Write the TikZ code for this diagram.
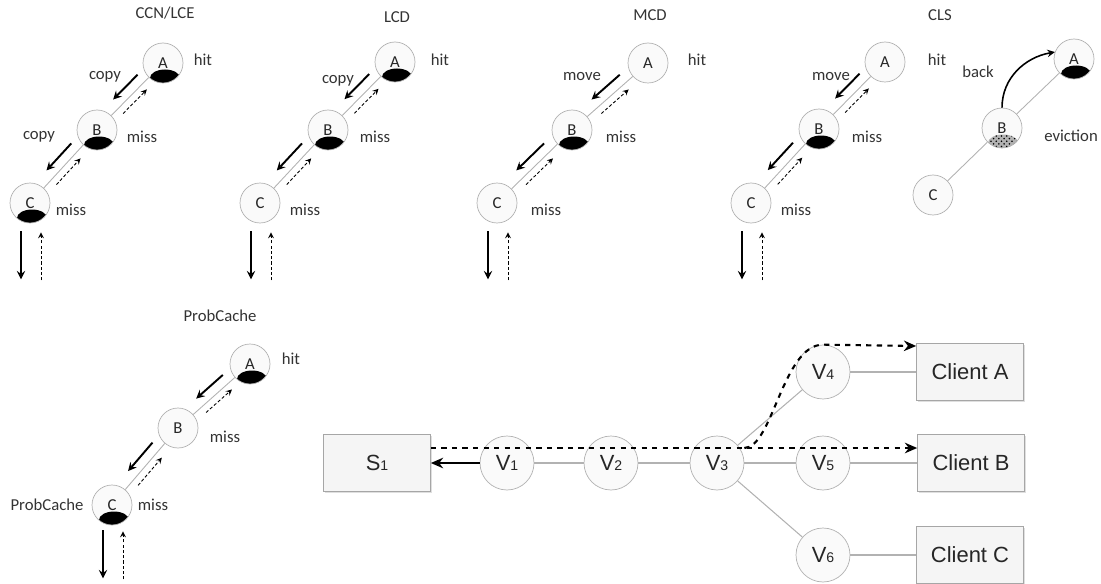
\documentclass[tikz,border=0pt]{standalone}
\usepackage{fontspec}
\setmainfont{Carlito}
\newfontfamily\netfont{Liberation Sans}
\usetikzlibrary{shapes, arrows.meta, positioning, shadows, calc, patterns}

\begin{document}
\begin{tikzpicture}[x=0.02cm, y=-0.02cm, font=\fontsize{9.5}{11}\selectfont, >=stealth]
    % Styles
    \tikzstyle{cache} = [circle, draw=gray!60, fill=gray!4, minimum size=0.8cm, inner sep=0pt, text=black!85]
    \tikzstyle{hitcache} = [cache, path picture={\fill[black] ($(path picture bounding box.center)+(2,15)$) ellipse [x radius=0.3cm, y radius=0.17cm];}]
    \tikzstyle{evictcache} = [cache, path picture={\fill[preaction={fill=gray!60}, pattern=crosshatch dots, pattern color=black] ($(path picture bounding box.center)+(1,15)$) ellipse [x radius=0.3cm, y radius=0.17cm];}]
    \tikzstyle{lbl} = [text=black!80]
    \tikzstyle{link} = [draw=gray!60, line width=0.5pt]
    \tikzstyle{push} = [->, line width=1.1pt]
    \tikzstyle{pull} = [->, dash pattern=on 1.8pt off 1.2pt, line width=0.5pt]
    \tikzstyle{router} = [circle, draw=gray!60, fill=gray!4, minimum size=1.08cm, inner sep=0pt, text=black!85, font=\netfont\fontsize{12.5}{14}\selectfont]
    \tikzstyle{host} = [rectangle, draw=gray!70, fill=gray!8, minimum width=2.14cm, minimum height=1.14cm, text=black!85, drop shadow={shadow xshift=0.8pt, shadow yshift=-0.8pt, fill=gray!50, opacity=0.5}, font=\netfont\fontsize{12.5}{14}\selectfont]
    \tikzstyle{netlink} = [draw=gray!60, line width=0.6pt]
    \tikzstyle{data} = [-{Stealth[length=7pt, width=6pt]}, dashed, line width=1.2pt]

    \useasboundingbox (0,0) rectangle (1101,584);

    % CCN/LCE
    \node (ccnT) [lbl] at (165,13) {CCN/LCE};
    \node (ccnA) [hitcache] at (163,63) {A};
    \node (ccnB) [hitcache] at (97,130) {B};
    \node (ccnC) [hitcache] at (30,203) {C};
    \node [lbl] at (203,60) {hit};
    \node [lbl] at (105,77) {copy};
    \node [lbl] at (39,137) {copy};
    \node [lbl] at (142,137) {miss};
    \node [lbl] at (71,210) {miss};

    % LCD
    \node (lcdT) [lbl] at (397,17) {LCD};
    \node (lcdA) [hitcache] at (395,62) {A};
    \node (lcdB) [hitcache] at (328,130) {B};
    \node (lcdC) [cache] at (260,203) {C};
    \node [lbl] at (440,60) {hit};
    \node [lbl] at (338,81) {copy};
    \node [lbl] at (375,137) {miss};
    \node [lbl] at (305,210) {miss};

    % MCD
    \node (mcdT) [lbl] at (650,15) {MCD};
    \node (mcdA) [cache] at (648,63) {A};
    \node (mcdB) [hitcache] at (572,130) {B};
    \node (mcdC) [cache] at (497,203) {C};
    \node [lbl] at (697,60) {hit};
    \node [lbl] at (582,77) {move};
    \node [lbl] at (621,137) {miss};
    \node [lbl] at (546,210) {miss};

    % CLS
    \node (clsT) [lbl] at (940,15) {CLS};
    \node (clsA) [cache] at (885,62) {A};
    \node (clsB) [hitcache] at (819,129) {B};
    \node (clsC) [cache] at (751,203) {C};
    \node [lbl] at (937,60) {hit};
    \node [lbl] at (831,77) {move};
    \node [lbl] at (867,137) {miss};
    \node [lbl] at (796,210) {miss};
    \node (evA) [hitcache] at (1074,59) {A};
    \node (evB) [evictcache] at (1002,128) {B};
    \node (evC) [cache] at (933,195) {C};
    \node [lbl] at (978,72) {back};
    \node [lbl] at (1071,136) {eviction};

    % ProbCache
    \node (probT) [lbl] at (220,316) {ProbCache};
    \node (probA) [hitcache] at (250,364) {A};
    \node (probB) [cache] at (178,428) {B};
    \node (probC) [hitcache] at (112,505) {C};
    \node [lbl] at (291,359) {hit};
    \node [lbl] at (225,437) {miss};
    \node [lbl] at (47,505) {ProbCache};
    \node [lbl] at (153,505) {miss};

    % Paths: chains A-B-C
    \draw [link] (ccnA) -- (ccnB);
    \draw [link] (ccnB) -- (ccnC);
    \draw [push] ($(ccnA)!0.28!(ccnB)+(-7,-7)$) -- ($(ccnA)!0.65!(ccnB)+(-7,-7)$);
    \draw [pull] ($(ccnA)!0.68!(ccnB)+(5,5)$) -- ($(ccnA)!0.32!(ccnB)+(5,5)$);
    \draw [push] ($(ccnB)!0.28!(ccnC)+(-7,-7)$) -- ($(ccnB)!0.65!(ccnC)+(-7,-7)$);
    \draw [pull] ($(ccnB)!0.68!(ccnC)+(5,5)$) -- ($(ccnB)!0.32!(ccnC)+(5,5)$);
    \draw [push] (ccnC.south) ++(-9,8) -- ++(0,48);
    \draw [pull] (ccnC.south) ++(11,57) -- ++(0,-48);

    \draw [link] (lcdA) -- (lcdB);
    \draw [link] (lcdB) -- (lcdC);
    \draw [push] ($(lcdA)!0.28!(lcdB)+(-7,-7)$) -- ($(lcdA)!0.65!(lcdB)+(-7,-7)$);
    \draw [pull] ($(lcdA)!0.68!(lcdB)+(5,5)$) -- ($(lcdA)!0.32!(lcdB)+(5,5)$);
    \draw [push] ($(lcdB)!0.28!(lcdC)+(-7,-7)$) -- ($(lcdB)!0.65!(lcdC)+(-7,-7)$);
    \draw [pull] ($(lcdB)!0.68!(lcdC)+(5,5)$) -- ($(lcdB)!0.32!(lcdC)+(5,5)$);
    \draw [push] (lcdC.south) ++(-9,8) -- ++(0,48);
    \draw [pull] (lcdC.south) ++(11,57) -- ++(0,-48);

    \draw [link] (mcdA) -- (mcdB);
    \draw [link] (mcdB) -- (mcdC);
    \draw [push] ($(mcdA)!0.28!(mcdB)+(-7,-7)$) -- ($(mcdA)!0.65!(mcdB)+(-7,-7)$);
    \draw [pull] ($(mcdA)!0.68!(mcdB)+(5,5)$) -- ($(mcdA)!0.32!(mcdB)+(5,5)$);
    \draw [push] ($(mcdB)!0.28!(mcdC)+(-7,-7)$) -- ($(mcdB)!0.65!(mcdC)+(-7,-7)$);
    \draw [pull] ($(mcdB)!0.68!(mcdC)+(5,5)$) -- ($(mcdB)!0.32!(mcdC)+(5,5)$);
    \draw [push] (mcdC.south) ++(-9,8) -- ++(0,48);
    \draw [pull] (mcdC.south) ++(11,57) -- ++(0,-48);

    \draw [link] (clsA) -- (clsB);
    \draw [link] (clsB) -- (clsC);
    \draw [push] ($(clsA)!0.28!(clsB)+(-7,-7)$) -- ($(clsA)!0.65!(clsB)+(-7,-7)$);
    \draw [pull] ($(clsA)!0.68!(clsB)+(5,5)$) -- ($(clsA)!0.32!(clsB)+(5,5)$);
    \draw [push] ($(clsB)!0.28!(clsC)+(-7,-7)$) -- ($(clsB)!0.65!(clsC)+(-7,-7)$);
    \draw [pull] ($(clsB)!0.68!(clsC)+(5,5)$) -- ($(clsB)!0.32!(clsC)+(5,5)$);
    \draw [push] (clsC.south) ++(-9,8) -- ++(0,48);
    \draw [pull] (clsC.south) ++(11,57) -- ++(0,-48);

    \draw [link] (evA) -- (evB);
    \draw [link] (evB) -- (evC);
    \draw [->, line width=0.9pt] (evB.north) to[out=90, in=190] (evA.160);

    \draw [link] (probA) -- (probB);
    \draw [link] (probB) -- (probC);
    \draw [push] ($(probA)!0.28!(probB)+(-7,-7)$) -- ($(probA)!0.65!(probB)+(-7,-7)$);
    \draw [pull] ($(probA)!0.68!(probB)+(5,5)$) -- ($(probA)!0.32!(probB)+(5,5)$);
    \draw [push] ($(probB)!0.28!(probC)+(-7,-7)$) -- ($(probB)!0.65!(probC)+(-7,-7)$);
    \draw [pull] ($(probB)!0.68!(probC)+(5,5)$) -- ($(probB)!0.32!(probC)+(5,5)$);
    \draw [push] (probC.south) ++(-9,5) -- ++(0,48);
    \draw [pull] (probC.south) ++(11,54) -- ++(0,-48);

    % Network
    \node (s1) [host] at (377,463) {S{\footnotesize 1}};
    \node (v1) [router] at (507,463) {V{\footnotesize 1}};
    \node (v2) [router] at (611,463) {V{\footnotesize 2}};
    \node (v3) [router] at (717,463) {V{\footnotesize 3}};
    \node (v4) [router] at (823,372) {V{\footnotesize 4}};
    \node (v5) [router] at (823,463) {V{\footnotesize 5}};
    \node (v6) [router] at (823,555) {V{\footnotesize 6}};
    \node (clientA) [host] at (970,372) {Client A};
    \node (clientB) [host] at (971,463) {Client B};
    \node (clientC) [host] at (970,555) {Client C};

    \draw [netlink] (v1) -- (v2);
    \draw [netlink] (v2) -- (v3);
    \draw [netlink] (v3) -- (v5);
    \draw [netlink] (v5) -- (clientB);
    \draw [netlink] (v3) -- (v4);
    \draw [netlink] (v4) -- (clientA);
    \draw [netlink] (v3) -- (v6);
    \draw [netlink] (v6) -- (clientC);

    % Request back to the server, data out to the clients
    \draw [-{Stealth[length=7pt, width=6pt]}, line width=1.3pt] (v1) -- (s1);
    \draw [data] ([yshift=0.3cm]s1.east) -- ([yshift=0.3cm]clientB.west);
    \draw [data] ([yshift=0.3cm]v3.east) .. controls +(28,0) and +(-40,0) .. (v4.north) -- ([yshift=0.52cm]clientA.west);

\end{tikzpicture}
\end{document}
